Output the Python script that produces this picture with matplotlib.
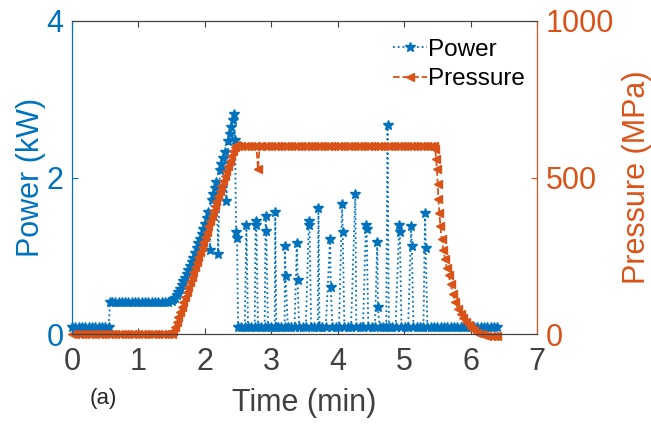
import matplotlib
matplotlib.use("Agg")
import matplotlib.pyplot as plt

plt.rcParams['font.family'] = ['Liberation Sans', 'DejaVu Sans']

BLUE = '#0072BD'
ORANGE = '#D95319'
GREY = '#404040'

# ---- Power (kW) vs time (min) ----
power_t = [
    0.00, 0.05, 0.10, 0.15, 0.20, 0.25, 0.30, 0.35, 0.40, 0.45, 0.50, 0.55,
    0.575, 0.60, 0.65, 0.70, 0.75, 0.80, 0.85, 0.90, 0.95, 1.00, 1.05, 1.10,
    1.15, 1.20, 1.25, 1.30, 1.35, 1.40, 1.45, 1.50,
    1.525, 1.55, 1.575, 1.60, 1.625, 1.65, 1.675, 1.70, 1.725, 1.75, 1.775,
    1.80, 1.825, 1.85, 1.875, 1.90, 1.925, 1.95, 1.975, 2.00, 2.025, 2.05,
    2.075, 2.10, 2.125, 2.15, 2.175, 2.20, 2.225, 2.25, 2.275, 2.30, 2.325,
    2.35, 2.375, 2.40, 2.425, 2.44, 2.455, 2.47, 2.485, 2.50,
    2.55, 2.60, 2.625, 2.65, 2.70, 2.75, 2.765, 2.775, 2.80, 2.85, 2.90,
    2.915, 2.925, 2.95, 3.00, 3.05, 3.06, 3.075, 3.10, 3.15, 3.20, 3.205,
    3.215, 3.25, 3.30, 3.35, 3.385, 3.395, 3.42, 3.47, 3.52, 3.565, 3.575,
    3.60, 3.65, 3.70, 3.71, 3.725, 3.77, 3.82, 3.885, 3.895, 3.92, 3.97,
    4.02, 4.065, 4.075, 4.10, 4.15, 4.20, 4.265, 4.28, 4.33, 4.38, 4.425,
    4.435, 4.46, 4.51, 4.56, 4.595, 4.605, 4.63, 4.68, 4.73, 4.75, 4.77,
    4.82, 4.87, 4.925, 4.935, 4.96, 5.01, 5.06, 5.105, 5.115, 5.14, 5.19,
    5.24, 5.29, 5.315, 5.325, 5.35, 5.40, 5.45, 5.50, 5.55, 5.60, 5.65,
    5.70, 5.75, 5.80, 5.85, 5.90, 5.95, 6.00, 6.05, 6.10, 6.15, 6.20, 6.25,
    6.30, 6.35, 6.40,
]
power_kw = [
    0.09, 0.09, 0.09, 0.09, 0.09, 0.09, 0.09, 0.09, 0.09, 0.09, 0.09, 0.09,
    0.42, 0.42, 0.42, 0.42, 0.42, 0.42, 0.42, 0.42, 0.42, 0.42, 0.42, 0.42,
    0.42, 0.42, 0.42, 0.42, 0.42, 0.42, 0.42, 0.43,
    0.45, 0.47, 0.50, 0.54, 0.58, 0.63, 0.68, 0.72, 0.77, 0.82, 0.87,
    0.92, 0.98, 1.04, 1.10, 1.16, 1.22, 1.28, 1.34, 1.41, 1.49, 1.56,
    1.08, 1.71, 1.79, 1.87, 1.94, 1.02, 2.09, 2.17, 2.25, 2.33, 1.70,
    2.46, 2.55, 2.64, 2.73, 2.81, 2.48, 1.30, 1.23, 0.09,
    0.09, 0.09, 1.39, 0.09, 0.09, 0.09, 1.45, 1.40, 0.09, 0.09, 0.09,
    1.51, 1.32, 0.09, 0.09, 0.09, 1.56, 0.09, 0.09, 0.09, 0.09, 1.13,
    0.74, 0.09, 0.09, 0.09, 1.16, 0.70, 0.09, 0.09, 0.09, 1.44, 1.40,
    0.09, 0.09, 0.09, 1.61, 0.09, 0.09, 0.09, 1.22, 0.60, 0.09, 0.09,
    0.09, 1.66, 1.31, 0.09, 0.09, 0.09, 1.79, 0.09, 0.09, 0.09, 1.40,
    1.35, 0.09, 0.09, 0.09, 1.18, 0.35, 0.09, 0.09, 0.09, 2.67, 0.09,
    0.09, 0.09, 1.40, 1.31, 0.09, 0.09, 0.09, 1.38, 1.13, 0.09, 0.09,
    0.09, 0.09, 1.55, 1.10, 0.09, 0.09, 0.09, 0.09, 0.09, 0.09, 0.09,
    0.09, 0.09, 0.09, 0.09, 0.09, 0.09, 0.09, 0.09, 0.09, 0.09, 0.09, 0.09,
    0.09, 0.09, 0.09,
]

# ---- Pressure (MPa) vs time (min) ----
pressure_t = [
    0.00, 0.05, 0.10, 0.15, 0.20, 0.25, 0.30, 0.35, 0.40, 0.45, 0.50, 0.55,
    0.60, 0.65, 0.70, 0.75, 0.80, 0.85, 0.90, 0.95, 1.00, 1.05, 1.10, 1.15,
    1.20, 1.25, 1.30, 1.35, 1.40, 1.45, 1.50,
    1.525, 1.55, 1.575, 1.60, 1.625, 1.65, 1.675, 1.70, 1.725, 1.75, 1.775,
    1.80, 1.825, 1.85, 1.875, 1.90, 1.925, 1.95, 1.975, 2.00, 2.025, 2.05,
    2.075, 2.10, 2.125, 2.15, 2.175, 2.20, 2.225, 2.25, 2.275, 2.30, 2.325,
    2.35, 2.375, 2.40, 2.425, 2.45, 2.475,
    2.50, 2.55, 2.60, 2.65, 2.70, 2.75, 2.775, 2.80, 2.825, 2.85, 2.90,
    2.95, 3.00, 3.05, 3.10, 3.15, 3.20, 3.25, 3.30, 3.35, 3.40, 3.45, 3.50,
    3.55, 3.60, 3.65, 3.70, 3.75, 3.80, 3.85, 3.90, 3.95, 4.00, 4.05, 4.10,
    4.15, 4.20, 4.25, 4.30, 4.35, 4.40, 4.45, 4.50, 4.55, 4.60, 4.65, 4.70,
    4.75, 4.80, 4.85, 4.90, 4.95, 5.00, 5.05, 5.10, 5.15, 5.20, 5.25, 5.30,
    5.35, 5.40, 5.45,
    5.47, 5.48, 5.495, 5.505, 5.515, 5.53, 5.545, 5.565, 5.59, 5.615, 5.64,
    5.67, 5.70, 5.735, 5.77, 5.81, 5.85, 5.89, 5.93, 5.97, 6.01, 6.05, 6.10,
    6.15, 6.20, 6.25, 6.30, 6.35, 6.40,
]
pressure_mpa = [
    0, 0, 0, 0, 0, 0, 0, 0, 0, 0, 0, 0,
    0, 0, 0, 0, 0, 0, 0, 0, 0, 0, 0, 0,
    0, 0, 0, 0, 0, 0, 1,
    10, 25, 40, 56, 72, 88, 104, 120, 136, 152, 168,
    184, 200, 216, 232, 248, 264, 280, 296, 312, 328, 344,
    360, 376, 392, 408, 424, 440, 456, 472, 488, 504, 520,
    536, 552, 568, 584, 598, 602,
    601, 600, 601, 600, 599, 600, 600, 526, 600, 601, 600,
    599, 600, 601, 600, 600, 599, 600, 601, 600, 600, 599, 600,
    601, 600, 600, 599, 600, 601, 600, 599, 600, 600, 601, 600,
    599, 600, 601, 600, 600, 599, 600, 601, 600, 599, 600, 600,
    601, 600, 599, 600, 601, 600, 600, 599, 600, 601, 600, 599,
    600, 600, 600,
    590, 558, 526, 478, 431, 388, 346, 304, 270, 241, 212,
    188, 162, 128, 104, 82, 66, 52, 40, 30, 21, 13, 6,
    1, -3, -5, -6, -6, -6,
]

fig = plt.figure(figsize=(6.51, 4.26), dpi=100)
ax = fig.add_axes([0.1106, 0.2148, 0.7143, 0.737])
ax2 = ax.twinx()

l1, = ax.plot(power_t, power_kw, color=BLUE, linestyle=':', linewidth=1.3,
              marker='*', markersize=7.5, clip_on=False, label='Power')
l2, = ax2.plot(pressure_t, pressure_mpa, color=ORANGE, linestyle='--',
               linewidth=1.3, marker='<', markersize=6, clip_on=False,
               label='Pressure')

ax.set_xlim(0, 7)
ax.set_ylim(0, 4)
ax2.set_ylim(0, 1000)
ax.set_xticks(range(0, 8))
ax.set_yticks([0, 2, 4])
ax2.set_yticks([0, 500, 1000])

ax.tick_params(axis='x', direction='in', top=True, length=4, pad=9,
               labelsize=22, colors=GREY)
ax.tick_params(axis='y', direction='in', length=4, pad=6,
               labelsize=22, colors=BLUE)
ax2.tick_params(axis='y', direction='in', length=4, pad=6,
                labelsize=22, colors=ORANGE)

for a in (ax, ax2):
    a.spines['top'].set_color(GREY)
    a.spines['bottom'].set_color(GREY)
    a.spines['left'].set_color(BLUE)
    a.spines['right'].set_color(ORANGE)

ax.set_xlabel('Time (min)', fontsize=22, color=GREY, labelpad=8)
ax.set_ylabel('Power (kW)', fontsize=22, color=BLUE, labelpad=0.5)
ax2.set_ylabel('Pressure (MPa)', fontsize=22, color=ORANGE, labelpad=6)

ax2.legend(handles=[l1, l2], loc='upper right', frameon=False, fontsize=17.5,
           handlelength=1.4, handletextpad=0.05, labelspacing=0.3,
           bbox_to_anchor=(1.0, 0.98), borderaxespad=0.1)

fig.text(0.159, 0.064, '(a)', fontsize=16, color='#262626',
         ha='center', va='center')

fig.savefig('out.png', dpi=100)
